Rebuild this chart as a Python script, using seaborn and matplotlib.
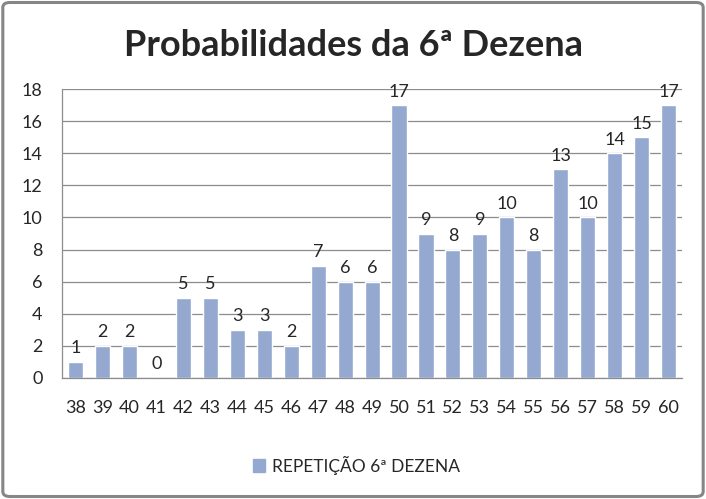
import matplotlib
matplotlib.use("Agg")
import matplotlib.pyplot as plt
import seaborn as sns
import pandas as pd
from matplotlib.patches import FancyBboxPatch, Patch

# dados do grafico
dezenas = [str(n) for n in range(38, 61)]
repeticoes = [1, 2, 2, 0, 5, 5, 3, 3, 2, 7, 6, 6, 17, 9, 8, 9, 10, 8, 13, 10, 14, 15, 17]
y_ticks = list(range(0, 19, 2))

titulo = "Probabilidades da 6ª Dezena"
serie = "REPETIÇÃO 6ª DEZENA"
cor_barra = "#94A8D0"

df = pd.DataFrame({"dezena": dezenas, "rep": repeticoes})

sns.set_style("white")
plt.rcParams["font.family"] = ["Lato", "DejaVu Sans"]

fig = plt.figure(figsize=(7.06, 4.99), dpi=100)
ax = fig.add_axes([0.088, 0.2425, 0.878, 0.579])

sns.barplot(data=df, x="dezena", y="rep", color=cor_barra, width=0.56,
            saturation=1, ax=ax)

for i, v in enumerate(repeticoes):
    ax.annotate(str(v), (i, v), xytext=(0, 4), textcoords="offset points",
                ha="center", va="bottom", fontsize=13)

ax.set_ylim(0, 18)
ax.set_xlim(-0.5, len(dezenas) - 0.5)
ax.set_yticks(y_ticks)
ax.set_xlabel("")
ax.set_ylabel("")
ax.yaxis.grid(True, color="#8c8c8c", linewidth=0.9)
ax.set_axisbelow(True)
ax.tick_params(axis="both", length=0, labelsize=13)
ax.tick_params(axis="x", pad=16)
ax.tick_params(axis="y", pad=14)
for s in ["top", "right"]:
    ax.spines[s].set_visible(False)
for s in ["left", "bottom"]:
    ax.spines[s].set_color("#8c8c8c")
    ax.spines[s].set_linewidth(0.9)

fig.text(0.5, 0.908, titulo, ha="center", va="center",
         fontsize=26, fontweight="bold")

fig.legend(handles=[Patch(color=cor_barra, label=serie)], loc="center",
           bbox_to_anchor=(0.505, 0.068), frameon=False, fontsize=12.5,
           handlelength=0.7, handleheight=0.7, handletextpad=0.4)

borda = FancyBboxPatch((0.004, 0.005), 0.992, 0.99,
                       boxstyle="round,pad=0,rounding_size=0.01",
                       transform=fig.transFigure, fill=False,
                       edgecolor="#868686", linewidth=2.2)
fig.patches.append(borda)

fig.savefig("out.png", dpi=100)
